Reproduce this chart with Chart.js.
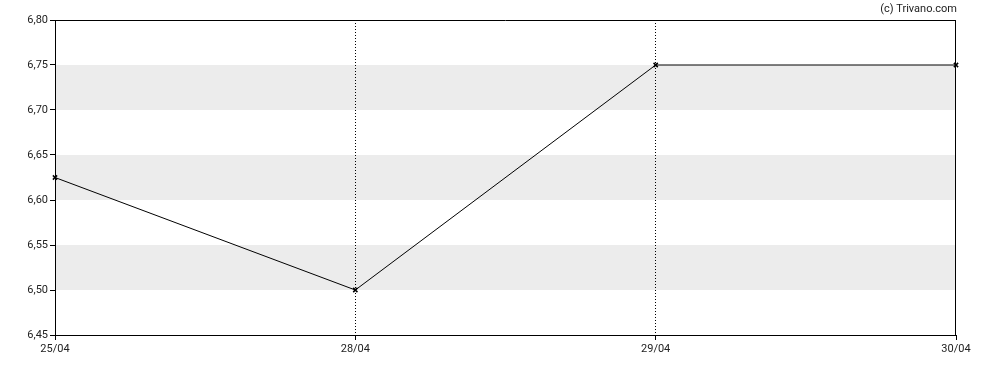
<!DOCTYPE html>
<html><head><meta charset="utf-8">
<script src="https://cdn.jsdelivr.net/npm/chart.js@4/dist/chart.umd.min.js"></script>
<style>html,body{margin:0;padding:0;background:#fff}#wrap{width:988px;height:370px}</style>
</head><body><div id="wrap"><canvas id="c" width="988" height="370"></canvas></div>
<script>
const categories = ['25/04', '28/04', '29/04', '30/04'];
const prices = [6.625, 6.50, 6.75, 6.75];
const yMin = 6.45, yMax = 6.80, yStep = 0.05;
const bands = [[6.50, 6.55], [6.60, 6.65], [6.70, 6.75]];
const credit = '(c) Trivano.com';

const FONT = 'Roboto, "Liberation Sans", Arial, sans-serif';

const decor = {
  id: 'decor',
  beforeDraw(chart) {
    const {ctx, chartArea: a, scales: {y}} = chart;
    ctx.save();
    ctx.fillStyle = '#ececec';
    bands.forEach(([lo, hi]) => {
      const yt = y.getPixelForValue(hi), yb = y.getPixelForValue(lo);
      ctx.fillRect(a.left, yt, a.right - a.left, yb - yt);
    });
    ctx.restore();
  },
  afterDraw(chart) {
    const {ctx, chartArea: a} = chart;
    ctx.save();
    ctx.strokeStyle = '#000';
    ctx.lineWidth = 1;
    ctx.beginPath();
    ctx.moveTo(a.left, a.top + 0.5);
    ctx.lineTo(a.right, a.top + 0.5);
    ctx.moveTo(a.right - 0.5, a.top);
    ctx.lineTo(a.right - 0.5, a.bottom);
    ctx.stroke();
    ctx.fillStyle = '#222';
    ctx.font = '11px ' + FONT;
    ctx.textAlign = 'right';
    ctx.textBaseline = 'middle';
    ctx.fillText(credit, a.right + 1, 9);
    ctx.restore();
  }
};

new Chart(document.getElementById('c'), {
  type: 'line',
  data: {
    labels: categories,
    datasets: [{
      data: prices,
      borderColor: '#000',
      borderWidth: 1,
      tension: 0,
      fill: false,
      pointStyle: 'crossRot',
      pointRadius: 3,
      pointBorderColor: '#000',
      pointBorderWidth: 1.5,
      pointBackgroundColor: '#000'
    }]
  },
  options: {
    responsive: false,
    animation: false,
    devicePixelRatio: 1,
    layout: {padding: {left: 0, top: 20, right: 32, bottom: 0}},
    plugins: {legend: {display: false}, tooltip: {enabled: false}, title: {display: false}},
    scales: {
      x: {
        type: 'category',
        offset: false,
        afterFit(s) { s.height = 35; },
        border: {display: true, color: '#000', width: 1, dash: [1, 2]},
        grid: {
          display: true,
          drawOnChartArea: true,
          color: (c) => (c.index === 0 || c.index === categories.length - 1) ? 'rgba(0,0,0,0)' : '#000',
          lineWidth: 1,
          tickLength: 5,
          tickColor: '#000',
          tickBorderDash: []
        },
        ticks: {color: '#222', font: {family: FONT, size: 11}, padding: 3, maxRotation: 0, autoSkip: false}
      },
      y: {
        min: yMin, max: yMax,
        afterFit(s) { s.width = 55; },
        border: {display: true, color: '#000', width: 1},
        grid: {display: true, drawOnChartArea: false, tickLength: 5, tickColor: '#000'},
        ticks: {
          stepSize: yStep,
          color: '#222',
          font: {family: FONT, size: 11},
          padding: 2,
          callback: (v) => Number(v).toFixed(2).replace('.', ',')
        }
      }
    }
  },
  plugins: [decor]
});
</script></body></html>
